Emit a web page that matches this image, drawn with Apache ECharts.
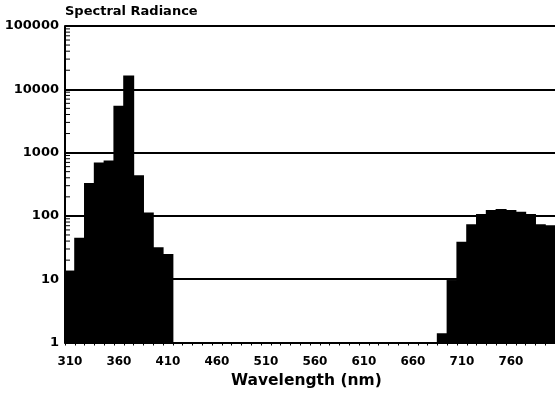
<!DOCTYPE html>
<html>
<head>
<meta charset="utf-8">
<script src="https://cdn.jsdelivr.net/npm/echarts@6/dist/echarts.min.js"></script>
<style>
html,body{margin:0;padding:0;background:#fff;}
#chart{width:555px;height:397px;}
</style>
</head>
<body>
<div id="chart"></div>
<script>
// Wavelength bins (nm), 10 nm wide, labelled by centre
const wavelengths = [310,320,330,340,350,360,370,380,390,400,410,
  420,430,440,450,460,470,480,490,500,510,520,530,540,550,560,570,580,590,600,
  610,620,630,640,650,660,670,680,690,700,710,720,730,740,750,760,770,780,790,800];
// Spectral radiance (log scale)
const radiance = [13.7,45,330,700,750,5500,16500,440,113,32,25,
  1,1,1,1,1,1,1,1,1,1,1,1,1,1,1,1,1,1,1,
  1,1,1,1,1,1,1,1,1.4,9.7,39,74,107,124,128,124,116,107,74,71];
// Y-axis decade tick labels
const yTicks = [1,10,100,1000,10000,100000];
// Minor log ticks multipliers within each decade
const minorMult = [2,3,4,5,6,7,8,9];

const minorVals = [];
for (let d = 0; d < yTicks.length - 1; d++) {
  for (const m of minorMult) minorVals.push([0, yTicks[d] * m]);
}

const FONT = 'DejaVu Sans';
const chart = echarts.init(document.getElementById('chart'), null, {renderer: 'canvas'});
chart.setOption({
  animation: false,
  backgroundColor: '#fff',
  grid: {left: 65, right: -5, top: 26, bottom: 54.5, containLabel: false},
  xAxis: {
    type: 'category',
    data: wavelengths.map(String),
    boundaryGap: true,
    axisLine: {show: true, lineStyle: {color: '#000', width: 2}},
    axisTick: {show: true, interval: 0, length: 3, lineStyle: {color: '#000', width: 1}},
    axisLabel: {interval: 4, color: '#000', fontFamily: FONT, fontWeight: 'bold', fontSize: 12, margin: 13},
    splitLine: {show: false},
    splitArea: {show: false}
  },
  yAxis: {
    type: 'log',
    logBase: 10,
    min: yTicks[0],
    max: yTicks[yTicks.length - 1],
    interval: 1,
    axisLine: {show: true, lineStyle: {color: '#000', width: 2}},
    axisTick: {show: false},
    axisLabel: {color: '#000', fontFamily: FONT, fontWeight: 'bold', fontSize: 13, margin: 6,
      formatter: v => String(Math.round(v))},
    splitLine: {show: true, lineStyle: {color: '#000', width: 2}},
    splitArea: {show: false}
  },
  graphic: [
    {type: 'text', left: 65, top: 5, style: {text: 'Spectral Radiance', font: 'bold 13px "DejaVu Sans"', fill: '#000'}},
    {type: 'text', left: 231, top: 373, style: {text: 'Wavelength (nm)', font: 'bold 15.5px "DejaVu Sans"', fill: '#000'}}
  ],
  series: [
    {
      type: 'bar',
      data: radiance,
      barWidth: '112%',
      barGap: '0%',
      itemStyle: {color: '#000', borderWidth: 0},
      silent: true,
      z: 3
    },
    {
      type: 'custom',
      data: minorVals,
      silent: true,
      z: 4,
      renderItem: function (params, api) {
        const y = api.coord([0, api.value(1)])[1];
        const x0 = params.coordSys.x;
        return {type: 'line', shape: {x1: x0, y1: y, x2: x0 + 5, y2: y},
          style: {stroke: '#000', lineWidth: 1}};
      }
    }
  ]
});
</script>
</body>
</html>
